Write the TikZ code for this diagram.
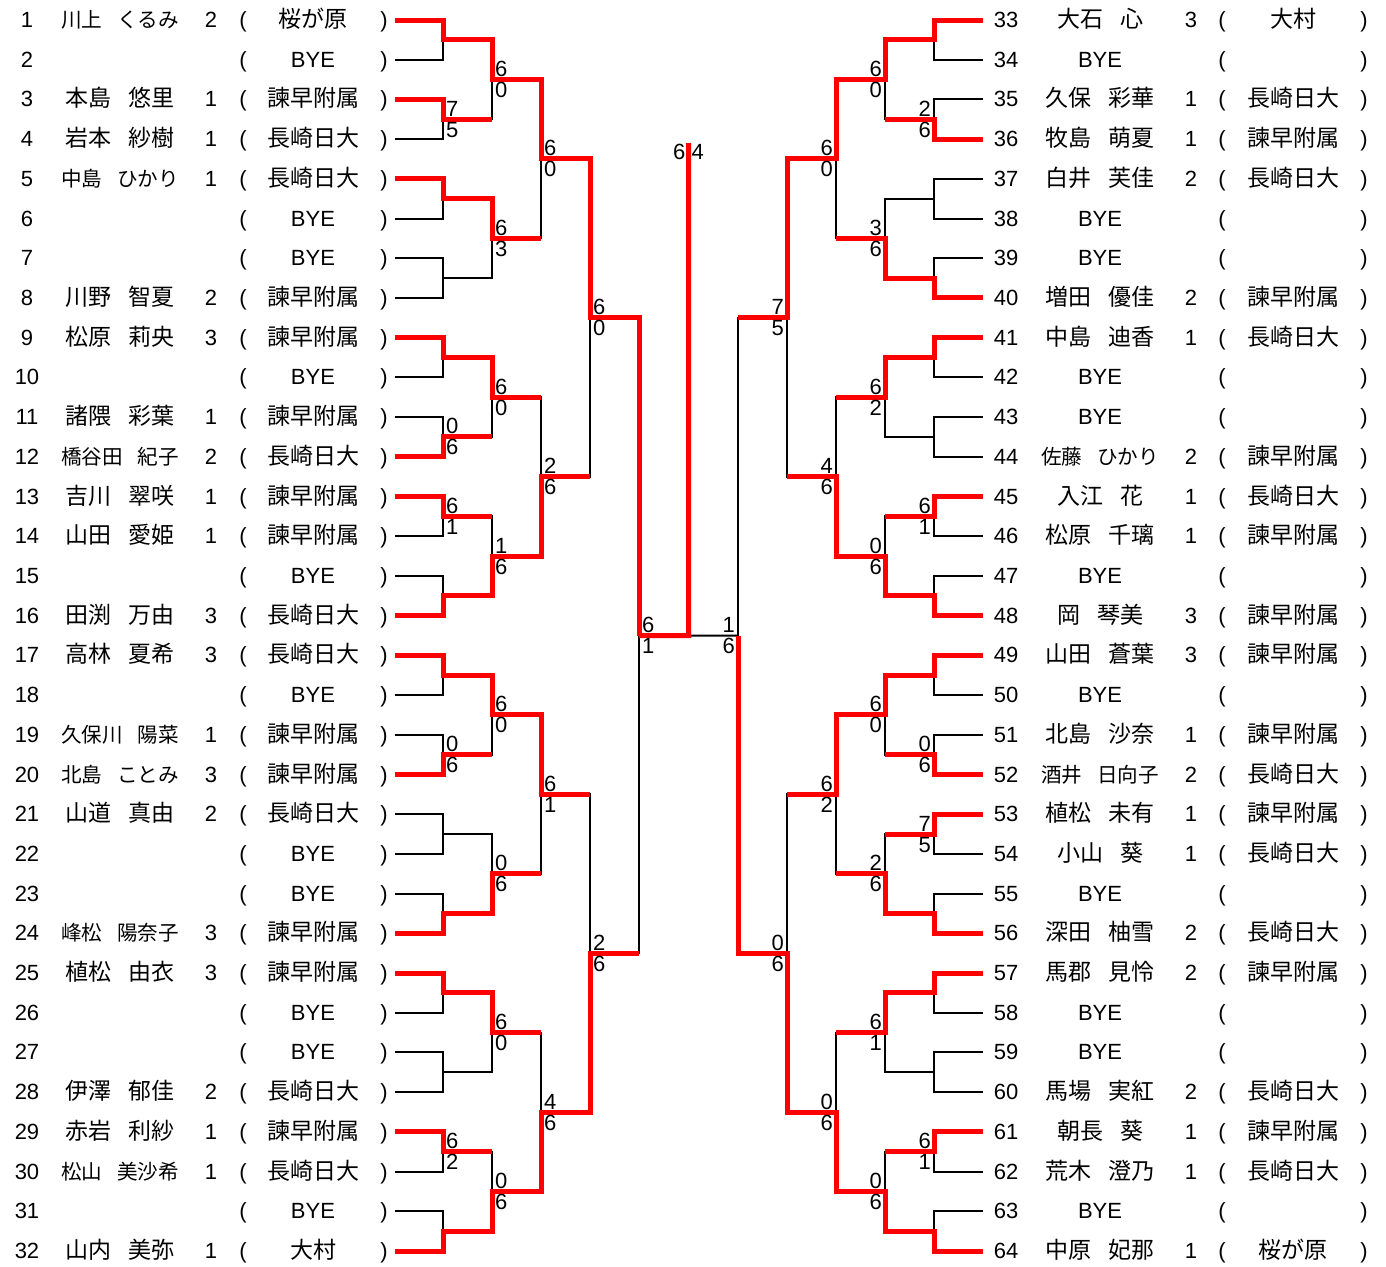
\documentclass[tikz,border=0pt]{standalone}
\usepackage{fontspec}
\setmainfont{Liberation Sans}
\newfontfamily\jp{Noto Sans CJK JP}
\usepackage{graphicx}
\usepackage{tikz}

\newsavebox\namebox
\newcommand\pname[2]{\sbox\namebox{#1\hspace{17pt}#2}%
  \ifdim\wd\namebox>118pt\resizebox{118pt}{!}{\usebox\namebox}\else\usebox\namebox\fi}

\begin{document}
\begin{tikzpicture}[x=1pt, y=-1pt,
  row/.style={inner sep=0pt, text height=15pt, text depth=0pt, font=\fontsize{22pt}{22pt}\selectfont},
  jrow/.style={row, font=\fontsize{23pt}{23pt}\selectfont\jp},
  score/.style={inner sep=0pt, text height=15pt, text depth=0pt, font=\fontsize{22pt}{22pt}\selectfont},
  bracket/.style={draw=black, line width=2pt},
  winner/.style={draw=red, line width=5pt}
]
\useasboundingbox (0,0) rectangle (1386,1266);

% bracket points
\foreach \i in {1,...,32} {
  \pgfmathsetmacro\yy{20+(\i-1)*39.71}
  \coordinate (L0-\i) at (395,\yy);
  \coordinate (R0-\i) at (983,\yy);
}
\foreach \rd in {1,...,5} {
  \pgfmathtruncatemacro\cnt{32/2^\rd}
  \foreach \mt in {1,...,\cnt} {
    \pgfmathsetmacro\yy{20+((\mt-1)*2^\rd+(2^\rd-1)/2)*39.71}
    \coordinate (L\rd-\mt) at ({443+49*(\rd-1)},\yy);
    \coordinate (R\rd-\mt) at ({934-49*(\rd-1)},\yy);
    \coordinate (Lo\rd-\mt) at ({443+49*\rd},\yy);
    \coordinate (Ro\rd-\mt) at ({934-49*\rd},\yy);
  }
}
\coordinate (F) at (688.5,635.5);
\coordinate (T) at (688.5,143);

% all matches
\foreach \sd in {L,R} {
  \foreach \rd in {1,...,5} {
    \pgfmathtruncatemacro\cnt{32/2^\rd}
    \pgfmathtruncatemacro\prv{\rd-1}
    \foreach \mt in {1,...,\cnt} {
      \pgfmathtruncatemacro\ca{2*\mt-1}
      \pgfmathtruncatemacro\cb{2*\mt}
      \draw[bracket] (\sd\prv-\ca) -| (\sd\rd-\mt) |- (\sd\prv-\cb);
    }
  }
}
\draw[bracket] (L5-1) -- (F) -- (R5-1);

% winners
\foreach \sd/\rd/\mt/\wn in {
  L/1/1/1, L/1/2/1, L/1/3/1, L/1/5/1, L/1/6/2, L/1/7/1, L/1/8/2, L/1/9/1,
  L/1/10/2, L/1/12/2, L/1/13/1, L/1/15/1, L/1/16/2,
  L/2/1/1, L/2/2/1, L/2/3/1, L/2/4/2, L/2/5/1, L/2/6/2, L/2/7/1, L/2/8/2,
  L/3/1/1, L/3/2/2, L/3/3/1, L/3/4/2, L/4/1/1, L/4/2/2, L/5/1/1,
  R/1/1/1, R/1/2/2, R/1/4/2, R/1/5/1, R/1/7/1, R/1/8/2, R/1/9/1, R/1/10/2,
  R/1/11/1, R/1/12/2, R/1/13/1, R/1/15/1, R/1/16/2,
  R/2/1/1, R/2/2/2, R/2/3/1, R/2/4/2, R/2/5/1, R/2/6/2, R/2/7/1, R/2/8/2,
  R/3/1/1, R/3/2/2, R/3/3/1, R/3/4/2, R/4/1/1, R/4/2/2, R/5/1/2} {
  \pgfmathtruncatemacro\prv{\rd-1}
  \pgfmathtruncatemacro\ch{2*\mt-2+\wn}
  \ifnum\rd<5
    \draw[winner] (\sd\prv-\ch) -| (\sd\rd-\mt) -- (\sd o\rd-\mt);
  \else
    \draw[winner] (\sd\prv-\ch) -| (\sd\rd-\mt);
  \fi
}
\draw[winner] (L5-1) -- (F) -- (T);

% scores
\foreach \rd/\mt/\ta/\tb in {1/2/7/5, 1/6/0/6, 1/7/6/1, 1/10/0/6, 1/15/6/2,
  2/1/6/0, 2/2/6/3, 2/3/6/0, 2/4/1/6, 2/5/6/0, 2/6/0/6, 2/7/6/0, 2/8/0/6,
  3/1/6/0, 3/2/2/6, 3/3/6/1, 3/4/4/6, 4/1/6/0, 4/2/2/6, 5/1/6/1} {
  \node[score, anchor=west, xshift=3pt, yshift=10.5pt] (La\rd-\mt) at (L\rd-\mt) {\ta};
  \node[score, anchor=west, xshift=3pt, yshift=-10.5pt] (Lb\rd-\mt) at (L\rd-\mt) {\tb};
}
\foreach \rd/\mt/\ta/\tb in {1/2/2/6, 1/7/6/1, 1/10/0/6, 1/11/7/5, 1/15/6/1,
  2/1/6/0, 2/2/3/6, 2/3/6/2, 2/4/0/6, 2/5/6/0, 2/6/2/6, 2/7/6/1, 2/8/0/6,
  3/1/6/0, 3/2/4/6, 3/3/6/2, 3/4/0/6, 4/1/7/5, 4/2/0/6, 5/1/1/6} {
  \node[score, anchor=east, xshift=-3pt, yshift=10.5pt] (Ra\rd-\mt) at (R\rd-\mt) {\ta};
  \node[score, anchor=east, xshift=-3pt, yshift=-10.5pt] (Rb\rd-\mt) at (R\rd-\mt) {\tb};
}
\node[score, anchor=east, xshift=-3pt, yshift=-9pt] (fa) at (T) {6};
\node[score, anchor=west, xshift=3pt, yshift=-9pt] (fb) at (T) {4};

% left players
\foreach \i/\fa/\gv/\gr/\sc in {1/川上/くるみ/2/桜が原, 3/本島/悠里/1/諫早附属,
  4/岩本/紗樹/1/長崎日大, 5/中島/ひかり/1/長崎日大, 8/川野/智夏/2/諫早附属,
  9/松原/莉央/3/諫早附属, 11/諸隈/彩葉/1/諫早附属, 12/橋谷田/紀子/2/長崎日大,
  13/吉川/翠咲/1/諫早附属, 14/山田/愛姫/1/諫早附属, 16/田渕/万由/3/長崎日大,
  17/高林/夏希/3/長崎日大, 19/久保川/陽菜/1/諫早附属, 20/北島/ことみ/3/諫早附属,
  21/山道/真由/2/長崎日大, 24/峰松/陽奈子/3/諫早附属, 25/植松/由衣/3/諫早附属,
  28/伊澤/郁佳/2/長崎日大, 29/赤岩/利紗/1/諫早附属, 30/松山/美沙希/1/長崎日大,
  32/山内/美弥/1/大村} {
  \pgfmathsetmacro\yy{20+(\i-1)*39.71}
  \node[row] (no\i) at (27,\yy) {\i};
  \node[jrow] (nm\i) at (120,\yy) {\pname{\fa}{\gv}};
  \node[row] (gr\i) at (211,\yy) {\gr};
  \node[row] (lp\i) at (243,\yy) {(};
  \node[jrow] (sc\i) at (313,\yy) {\sc};
  \node[row] (rp\i) at (384,\yy) {)};
}
\foreach \i in {2,6,7,10,15,18,22,23,26,27,31} {
  \pgfmathsetmacro\yy{20+(\i-1)*39.71}
  \node[row] (no\i) at (27,\yy) {\i};
  \node[row] (lp\i) at (243,\yy) {(};
  \node[row] (sc\i) at (313,\yy) {BYE};
  \node[row] (rp\i) at (384,\yy) {)};
}

% right players
\foreach \i/\fa/\gv/\gr/\sc in {33/大石/心/3/大村, 35/久保/彩華/1/長崎日大,
  36/牧島/萌夏/1/諫早附属, 37/白井/芙佳/2/長崎日大, 40/増田/優佳/2/諫早附属,
  41/中島/迪香/1/長崎日大, 44/佐藤/ひかり/2/諫早附属, 45/入江/花/1/長崎日大,
  46/松原/千璃/1/諫早附属, 48/岡/琴美/3/諫早附属, 49/山田/蒼葉/3/諫早附属,
  51/北島/沙奈/1/諫早附属, 52/酒井/日向子/2/長崎日大, 53/植松/未有/1/諫早附属,
  54/小山/葵/1/長崎日大, 56/深田/柚雪/2/長崎日大, 57/馬郡/見怜/2/諫早附属,
  60/馬場/実紅/2/長崎日大, 61/朝長/葵/1/諫早附属, 62/荒木/澄乃/1/長崎日大,
  64/中原/妃那/1/桜が原} {
  \pgfmathsetmacro\yy{20+(\i-33)*39.71}
  \node[row] (no\i) at (1006,\yy) {\i};
  \node[jrow] (nm\i) at (1100,\yy) {\pname{\fa}{\gv}};
  \node[row] (gr\i) at (1191,\yy) {\gr};
  \node[row] (lp\i) at (1222,\yy) {(};
  \node[jrow] (sc\i) at (1293,\yy) {\sc};
  \node[row] (rp\i) at (1364,\yy) {)};
}
\foreach \i in {34,38,39,42,43,47,50,55,58,59,63} {
  \pgfmathsetmacro\yy{20+(\i-33)*39.71}
  \node[row] (no\i) at (1006,\yy) {\i};
  \node[row] (nm\i) at (1100,\yy) {BYE};
  \node[row] (lp\i) at (1222,\yy) {(};
  \node[row] (rp\i) at (1364,\yy) {)};
}
\end{tikzpicture}
\end{document}
